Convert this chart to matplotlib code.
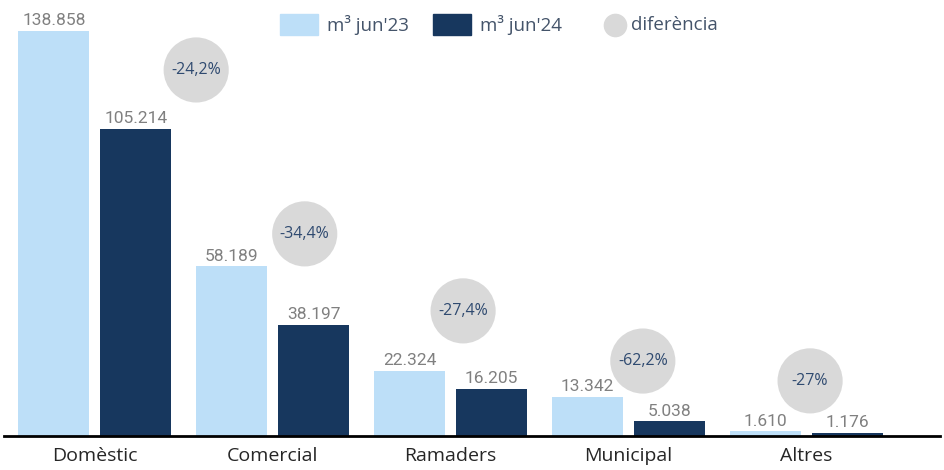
import numpy as np
import matplotlib
matplotlib.use('Agg')
import matplotlib.pyplot as plt
from matplotlib.patches import Rectangle
from matplotlib.lines import Line2D

# data
categories = ['Domèstic', 'Comercial', 'Ramaders', 'Municipal', 'Altres']
jun23 = [138858, 58189, 22324, 13342, 1610]
jun24 = [105214, 38197, 16205, 5038, 1176]
diff_labels = ['-24,2%', '-34,4%', '-27,4%', '-62,2%', '-27%']
legend_labels = ["m³ jun'23", "m³ jun'24", 'diferència']
# where the bubbles sit (x offset from group centre, height in m3 units)
diff_dx = [0.57, 0.18, 0.07, 0.08, 0.02]
diff_y = [125500, 69300, 42900, 25700, 18900]

c_light = '#BDDFF8'
c_dark = '#17375E'
c_bubble = '#D9D9D9'
c_label = '#808080'
c_bubtxt = '#2F4A70'
c_legtxt = '#44546A'

W, H = 944, 470
fig = plt.figure(figsize=(W / 100, H / 100), dpi=100)
ax = fig.add_axes([4 / W, 34 / H, 936 / W, 436 / H])

x = np.arange(len(categories))
w = 0.40
off = 0.23
b1 = ax.bar(x - off, jun23, w, color=c_light, zorder=2)
b2 = ax.bar(x + off, jun24, w, color=c_dark, zorder=2)

def fmt(v):
    return '{:,}'.format(v).replace(',', '.')

for bars, vals in [(b1, jun23), (b2, jun24)]:
    for b, v in zip(bars, vals):
        ax.annotate(fmt(v), (b.get_x() + b.get_width() / 2, v),
                    xytext=(0, 2), textcoords='offset points',
                    ha='center', va='bottom', fontsize=12.5,
                    family='Roboto', color=c_label, zorder=4)

ax.scatter(x + np.array(diff_dx), diff_y, s=2200, color=c_bubble,
           edgecolors='none', zorder=3)
for xi, dx, yi, t in zip(x, diff_dx, diff_y, diff_labels):
    ax.text(xi + dx, yi, t, ha='center', va='center', fontsize=11.5,
            family='Open Sans', color=c_bubtxt, zorder=4)

ax.set_xlim(-0.51, 4.75)
ax.set_ylim(0, 138858 * 436 / 405)
for s in ['top', 'right', 'left']:
    ax.spines[s].set_visible(False)
ax.spines['bottom'].set_linewidth(2)
ax.spines['bottom'].set_color('black')
ax.set_yticks([])
ax.set_xticks(x)
ax.set_xticklabels(categories, family='Open Sans', fontsize=14, color='#262626')
ax.tick_params(axis='x', length=0, pad=8)

# legend drawn by hand so the spacing follows the original
ly = 1 - 25 / H
fig.add_artist(Rectangle((280 / W, 1 - 35 / H), 38 / W, 21 / H,
                         transform=fig.transFigure, color=c_light))
fig.add_artist(Rectangle((433 / W, 1 - 35 / H), 38 / W, 21 / H,
                         transform=fig.transFigure, color=c_dark))
fig.add_artist(Line2D([615 / W], [ly], marker='o', markersize=16,
                      color=c_bubble, linestyle='none', transform=fig.transFigure))
for xt, t in zip([327, 480, 631], legend_labels):
    fig.text(xt / W, ly, t, ha='left', va='center', fontsize=13.5,
             family='Open Sans', color=c_legtxt)

fig.savefig('out.png', dpi=100)
